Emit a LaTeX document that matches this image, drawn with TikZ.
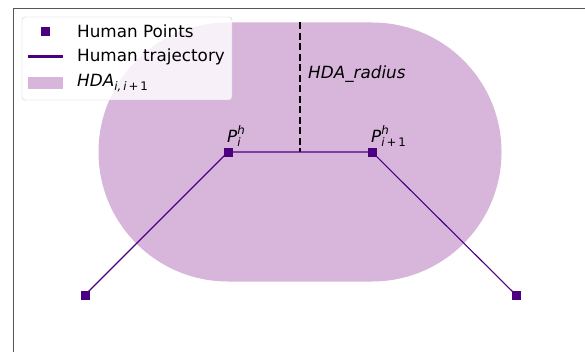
\documentclass[tikz,border=0pt]{standalone}
\usepackage{fontspec}
\setmainfont{DejaVu Sans}
\definecolor{hda}{RGB}{216,182,220}
\definecolor{traj}{RGB}{75,0,130}
\definecolor{spine}{RGB}{85,85,85}
\newcommand\scr{\fontsize{11.8}{13}\selectfont}
% point label: italic base letter with superscript and subscript
\newcommand\plab[3]{$\hbox{\itshape #1}^{\hbox{\scr\itshape #2}}_{\hbox{\scr #3}}$}
\tikzset{
  x=1pt, y=-1pt,
  hpt/.style={rectangle, fill=traj, draw=traj, minimum size=7.5pt, inner sep=0pt},
  trajline/.style={traj, line width=1.1pt},
  radline/.style={black, line width=2pt, dash pattern=on 7pt off 3.5pt},
  lab/.style={inner sep=0pt, font=\fontsize{16.8}{19}\selectfont},
  legtxt/.style={inner sep=0pt, anchor=west, font=\fontsize{16.8}{19}\selectfont},
}
\begin{document}
\begin{tikzpicture}
\useasboundingbox (0,0) rectangle (585,352);
\fill[white] (0,0) rectangle (585,352);
% axes spines
\draw[spine, line width=1pt] (13,352) -- (13,8.5) -- (585,8.5);
% area swept between the two points
\fill[hda] (228,22.5) -- (372,22.5) arc[start angle=-90, end angle=90, radius=129.5]
  -- (228,281.5) arc[start angle=90, end angle=270, radius=129.5] -- cycle;
% radius marker
\coordinate (top) at (300,22.5);
\coordinate (mid) at (300,152);
\draw[radline] (top) -- (mid);
\node[lab, anchor=west, font=\fontsize{16.8}{19}\selectfont\itshape] (rad) at (308,74) {HDA\_radius};
% trajectory and points
\node[hpt] (p0) at (85,295) {};
\node[hpt] (p1) at (228,152) {};
\node[hpt] (p2) at (372,152) {};
\node[hpt] (p3) at (516,295) {};
\draw[trajline] (p0.center) -- (p1.center) -- (p2.center) -- (p3.center);
\node[hpt] at (p0) {};
\node[hpt] at (p1) {};
\node[hpt] at (p2) {};
\node[hpt] at (p3) {};
\node[lab, anchor=south west] (l1) at (227,147) {\plab{P}{h}{\itshape i}};
\node[lab, anchor=south west] (l2) at (371,147) {\plab{P}{h}{\itshape i\,\upshape+\,1}};
% legend
\draw[rounded corners=3pt, fill=white, fill opacity=0.8, draw=black!20] (22,17) rectangle (232,100);
\node[hpt, minimum size=8pt] (lg1) at (45.5,31) {};
\coordinate (lg2a) at (28,57);
\coordinate (lg2b) at (63,57);
\draw[traj, line width=3pt] (lg2a) -- (lg2b);
\fill[hda] (28,77) rectangle (63,89);
\node[legtxt] (t1) at (77,31) {Human Points};
\node[legtxt] (t2) at (77,57) {Human trajectory};
\node[legtxt] (t3) at (77,83) {\plab{HDA}{}{\itshape i,\,i\,\upshape+\,1}};
\end{tikzpicture}
\end{document}
